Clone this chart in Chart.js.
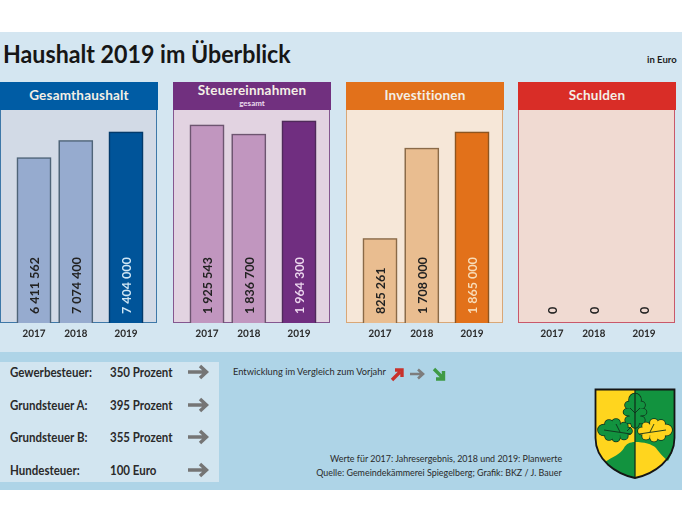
<!DOCTYPE html>
<html lang="de">
<head>
<meta charset="utf-8">
<title>Haushalt 2019 im Überblick</title>
<script src="https://cdn.jsdelivr.net/npm/chart.js@4"></script>
<style>
html, body { margin: 0; padding: 0; background: #fff; }
#page { position: relative; width: 682px; height: 512px; overflow: hidden; font-family: Lato, sans-serif; color: #1c1c1c; }
#page div, #page svg, #page canvas { position: absolute; }
.txt { white-space: nowrap; line-height: 1; }
.head { color: #f3efe6; font-weight: 700; font-size: 13.5px; text-align: center; letter-spacing: 0.2px; }
.row { font-weight: 700; font-size: 12.5px; color: #2a2a2a; transform: scaleX(0.92); transform-origin: left; }
.note { right: 120px; font-size: 9.8px; color: #2a2a2a; transform: scaleX(0.91); transform-origin: right; }
</style>
</head>
<body>
<div id="page">
  <div style="left:0;top:32px;width:682px;height:320px;background:#d4e6f1"></div>
  <div style="left:0;top:352px;width:682px;height:138px;background:#aed4e7"></div>
  <div style="left:0;top:362px;width:219px;height:120px;background:#d2e5f0"></div>
  <div class="txt" style="left:3px;top:41px;font-size:25.5px;font-weight:700;color:#161616;transform:scaleX(0.91);transform-origin:left">Haushalt 2019 im Überblick</div>
  <div class="txt" style="left:647px;top:55px;font-size:9.5px;font-weight:700">in Euro</div>
  <div class="txt" style="left:233px;top:367px;font-size:9.3px;color:#2a2a2a">Entwicklung im Vergleich zum Vorjahr</div>
  <div class="txt note" style="top:454px">Werte für 2017: Jahresergebnis, 2018 und 2019: Planwerte</div>
  <div class="txt note" style="top:468px">Quelle: Gemeindekämmerei Spiegelberg; Grafik: BKZ / J. Bauer</div>

  <svg style="left:390px;top:366px" width="70" height="16" viewBox="0 0 70 16">
    <path d="M2 14 L10 6 M5 4 H12 V11" fill="none" stroke="#c8322c" stroke-width="3.4"/>
    <path d="M20 8 H32 M28 3.5 L33 8 L28 12.5" fill="none" stroke="#7d7d7d" stroke-width="2.6"/>
    <path d="M44 3 L52 11 M53.5 5 V13 H46" fill="none" stroke="#3f9a45" stroke-width="3.4"/>
  </svg>

  <svg style="left:594px;top:388px" width="82" height="92" viewBox="0 0 82 92">
    <defs>
      <g id="leafTop">
        <ellipse cx="41" cy="12" rx="6" ry="6.5"/><ellipse cx="35" cy="17" rx="4" ry="3.5"/><ellipse cx="47" cy="17" rx="4" ry="3.5"/>
        <ellipse cx="34" cy="24" rx="4.5" ry="3.5"/><ellipse cx="48" cy="24" rx="4.5" ry="3.5"/><ellipse cx="41" cy="24" rx="6" ry="10"/>
        <ellipse cx="35" cy="32" rx="3.8" ry="3.5"/><ellipse cx="47" cy="32" rx="3.8" ry="3.5"/><ellipse cx="41" cy="35" rx="4" ry="5"/>
      </g>
      <g id="leafLeft">
        <ellipse cx="10" cy="42" rx="6" ry="5.5"/><ellipse cx="15" cy="36" rx="4" ry="4"/><ellipse cx="15" cy="48" rx="4" ry="4"/>
        <ellipse cx="22" cy="35" rx="4" ry="4"/><ellipse cx="22" cy="49" rx="4" ry="4.5"/><ellipse cx="22" cy="42" rx="11" ry="6"/>
        <ellipse cx="30" cy="38" rx="3.8" ry="3.5"/><ellipse cx="30" cy="48" rx="3.8" ry="3.5"/><ellipse cx="34" cy="43" rx="4" ry="3.5"/>
      </g>
    </defs>
    <path d="M1.5 1.5 H80.5 V50 C80.5 72 60 86 41 90 C22 86 1.5 72 1.5 50 Z" fill="#ffd51e"/>
    <path d="M41 1.5 H80.5 V50 C80.5 58 78 66 74 73 C68 68 64 63 62 60 C58 56 50 54 41 54 Z" fill="#12933f"/>
    <path d="M41 54 C36 54 32 56 30 60 C27 66 18 69 11 74 C19 83 30 88 41 90 Z" fill="#12933f"/>
    <g stroke="#10301c" stroke-width="1.6"><use href="#leafTop"/><use href="#leafLeft"/><use href="#leafLeft" transform="matrix(-1 0 0 1 82 0)"/></g>
    <use href="#leafTop" fill="#12933f"/>
    <use href="#leafLeft" fill="#12933f"/>
    <use href="#leafLeft" transform="matrix(-1 0 0 1 82 0)" fill="#ffd51e"/>
    <path d="M10 42 L37 46 M72 42 L45 46 M38 38 L33 43 M22 36 L26 44 M60 36 L56 44 M36 20 L41 25 M46 20 L41 25" stroke="#10301c" stroke-width="0.9" fill="none"/>
    <path d="M41 1.5 V90" stroke="#10301c" stroke-width="1.3"/>
    <path d="M1.5 1.5 H80.5 V50 C80.5 72 60 86 41 90 C22 86 1.5 72 1.5 50 Z" fill="none" stroke="#151515" stroke-width="1.8"/>
  </svg>
</div>

<script>
// Werte aus der Grafik
const years = ["2017", "2018", "2019"];
const panelTitles = ["Gesamthaushalt", "Steuereinnahmen", "Investitionen", "Schulden"];
const gesamthaushalt = [6411562, 7074400, 7404000];
const steuereinnahmen = [1925543, 1836700, 1964300];
const investitionen = [825261, 1708000, 1865000];
const schulden = [0, 0, 0];
const taxNames = ["Gewerbesteuer:", "Grundsteuer A:", "Grundsteuer B:", "Hundesteuer:"];
const taxRates = ["350 Prozent", "395 Prozent", "355 Prozent", "100 Euro"];

// Aussehen der vier Felder
const panels = [
    { values: gesamthaushalt, left: 0, yMax: 8257000, head: "#005ca4", bg: "#d2dae6", frame: "#3e78a8",
      light: "#96abcf", lightEdge: "#4f6478", dark: "#005499", darkEdge: "#033a6b", darkText: "#cfe6f5" },
    { values: steuereinnahmen, left: 173, yMax: 2071000, head: "#71307f", bg: "#e2d3e1", frame: "#84578f",
      light: "#c196bf", lightEdge: "#6d5570", dark: "#702e80", darkEdge: "#4f2a5a", darkText: "#ecd6ee" },
    { values: investitionen, left: 346, yMax: 2080000, head: "#e2711b", bg: "#f6e7d8", frame: "#d9a777",
      light: "#e9bd90", lightEdge: "#8a6a48", dark: "#e2711a", darkEdge: "#8d5520", darkText: "#f8dcb8" },
    { values: schulden, left: 518, yMax: 1000000, head: "#d92d27", bg: "#f0dad2", frame: "#c9586a",
      light: "#f0dad2", lightEdge: "#f0dad2", dark: "#f0dad2", darkEdge: "#f0dad2", darkText: "#222" }
];

// 2017 und 2018 stehen enger als 2019, deshalb feinere Kategorien mit Luecken
const slots = ["2017", "", "", "", "", "2018", "", "", "", "", "", "2019"];

const page = document.getElementById("page");

function addDiv(css, cls, text) {
    const d = document.createElement("div");
    d.style.cssText = css;
    if (cls) d.className = cls;
    if (text) d.textContent = text;
    page.appendChild(d);
    return d;
}

// Wert senkrecht in den Balken schreiben
const barLabels = {
    id: "barLabels",
    afterDatasetsDraw(chart, args, opts) {
        const ctx = chart.ctx;
        const meta = chart.getDatasetMeta(0);
        ctx.save();
        ctx.font = "700 12.5px Lato, sans-serif";
        ctx.textAlign = "left";
        ctx.textBaseline = "middle";
        meta.data.forEach((bar, i) => {
            const v = chart.data.datasets[0].data[i];
            if (v === null) return;
            ctx.save();
            ctx.translate(bar.x + 1, opts.bottom);
            ctx.rotate(-Math.PI / 2);
            ctx.fillStyle = slots[i] === "2019" ? opts.darkText : "#222";
            const label = String(v).replace(/\B(?=(\d{3})+$)/g, " ");
            ctx.fillText(label, 0, 0);
            ctx.restore();
        });
        ctx.restore();
    }
};

panels.forEach((p, idx) => {
    addDiv(`left:${p.left}px;top:82px;width:158px;height:28px;background:${p.head}`);
    addDiv(`left:${p.left}px;top:110px;width:${158 - 3}px;height:${214 - 2}px;background:${p.bg};border:1.5px solid ${p.frame};border-top:0`);
    addDiv(`left:${p.left}px;top:${idx === 1 ? 84 : 89}px;width:158px`, "txt head", panelTitles[idx]);
    if (idx === 1) addDiv(`left:${p.left}px;top:99px;width:158px;font-size:8px;font-weight:700;text-align:center;color:#eadcee`, "txt", "gesamt");

    const canvas = document.createElement("canvas");
    canvas.width = 158;
    canvas.height = 233;
    canvas.style.cssText = `left:${p.left}px;top:110px`;
    page.appendChild(canvas);

    const data = slots.map(s => (s === "" ? null : p.values[years.indexOf(s)]));
    new Chart(canvas, {
        type: "bar",
        data: {
            labels: slots,
            datasets: [{
                data: data,
                clip: false,
                barThickness: 34,
                borderWidth: 1.5,
                backgroundColor: slots.map(s => (s === "2019" ? p.dark : p.light)),
                borderColor: slots.map(s => (s === "2019" ? p.darkEdge : p.lightEdge))
            }]
        },
        options: {
            responsive: false,
            animation: false,
            devicePixelRatio: 2,
            layout: { padding: { left: 34, right: 32 } },
            plugins: {
                legend: { display: false },
                tooltip: { enabled: false },
                barLabels: { bottom: 204, darkText: p.darkText }
            },
            scales: {
                x: {
                    offset: false,
                    grid: { display: false, drawTicks: false },
                    border: { display: false },
                    afterFit: s => { s.height = 20; },
                    ticks: {
                        autoSkip: false,
                        maxRotation: 0,
                        padding: 5,
                        color: "#2a2a2a",
                        font: { family: "Lato, sans-serif", size: 10, weight: "700" },
                        callback(v) { return slots[v]; }
                    }
                },
                y: { display: false, min: 0, max: p.yMax }
            }
        },
        plugins: [barLabels]
    });
});

// Hebesaetze unten links
const rowTops = [367, 400, 432, 465];
taxNames.forEach((name, i) => {
    addDiv(`left:10px;top:${rowTops[i]}px`, "txt row", name);
    addDiv(`left:110px;top:${rowTops[i]}px`, "txt row", taxRates[i]);
    const svg = document.createElementNS("http://www.w3.org/2000/svg", "svg");
    svg.setAttribute("width", "22");
    svg.setAttribute("height", "16");
    svg.style.cssText = `left:187px;top:${rowTops[i] - 3}px`;
    svg.innerHTML = '<path d="M1 8 H18 M13 2 L19.5 8 L13 14" fill="none" stroke="#757575" stroke-width="3.4"/>';
    page.appendChild(svg);
});
</script>
</body>
</html>
